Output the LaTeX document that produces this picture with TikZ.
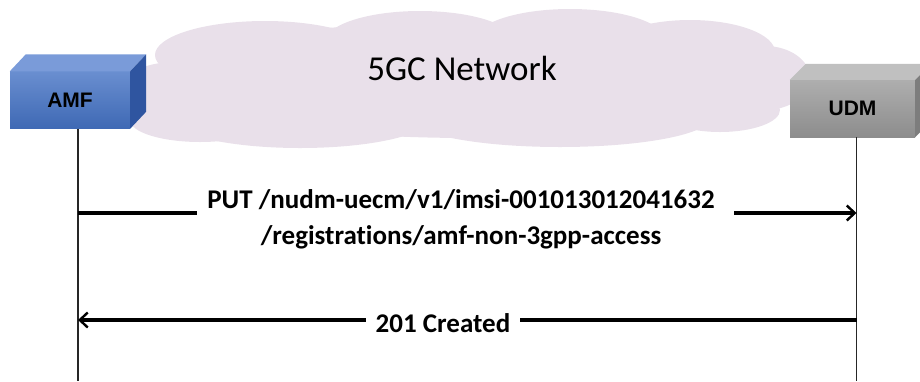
\documentclass[tikz,border=0pt]{standalone}
\usepackage{fontspec}
\setmainfont[Ligatures={NoCommon}]{Carlito}
\newfontfamily\arialfont{Liberation Sans}
\usetikzlibrary{arrows.meta,calc}
\definecolor{cloudc}{RGB}{233,224,234}
\definecolor{bluefront}{RGB}{68,114,196}
\definecolor{bluetop}{RGB}{122,155,217}
\definecolor{blueside}{RGB}{47,85,160}
\definecolor{grayfront}{RGB}{160,160,160}
\definecolor{graytop}{RGB}{192,192,192}
\definecolor{grayside}{RGB}{125,125,125}
\tikzset{
  nf/.style={inner sep=0pt, minimum width=120pt, minimum height=57pt, font=\arialfont\bfseries\fontsize{21}{25}\selectfont},
  lifeline/.style={line width=1.1pt, black!85},
  msg/.style={line width=3.2pt, black},
  msgarrow/.style={msg, -{Straight Barb[length=8pt,width=15pt,line width=2.4pt]}},
  lab/.style={font=\bfseries\fontsize{27}{36}\selectfont, align=center, inner sep=0pt},
  puff/.style={fill=cloudc, draw=none}
}
\begin{document}
\begin{tikzpicture}[x=1pt,y=-1pt]
\useasboundingbox (0,0) rectangle (920,381);
\clip (0,0) rectangle (920,381);
% cloud as union of ellipses
\fill[puff] (470,80) ellipse [x radius=320pt, y radius=58pt];
\fill[puff] (265,55) ellipse [x radius=110pt, y radius=34pt];
\fill[puff] (420,42) ellipse [x radius=95pt, y radius=31pt];
\fill[puff] (570,40) ellipse [x radius=95pt, y radius=31pt];
\fill[puff] (690,52) ellipse [x radius=85pt, y radius=32pt];
\fill[puff] (765,78) ellipse [x radius=45pt, y radius=32pt];
\fill[puff] (175,98) ellipse [x radius=62pt, y radius=36pt];
\fill[puff] (300,118) ellipse [x radius=130pt, y radius=30pt];
\fill[puff] (560,118) ellipse [x radius=150pt, y radius=29pt];
\fill[puff] (200,120) ellipse [x radius=70pt, y radius=22pt];
\fill[puff] (720,110) ellipse [x radius=60pt, y radius=22pt];
\node[font=\fontsize{35}{40}\selectfont, inner sep=0pt] (cloud) at (462,68) {5GC Network};
% AMF box
\node[nf, top color=bluefront!80!white, bottom color=bluefront!92!black] (amf) at (70,100) {AMF};
\fill[bluetop] (amf.north west) -- ++(16,-17) -- ($(amf.north east)+(16,-17)$) -- (amf.north east) -- cycle;
\fill[blueside] (amf.north east) -- ++(16,-17) -- ($(amf.south east)+(16,-17)$) -- (amf.south east) -- cycle;
% UDM box
\node[nf, minimum width=125pt, top color=grayfront!85!white, bottom color=grayfront!88!black] (udm) at (852.5,108.5) {UDM};
\fill[graytop] (udm.north west) -- ++(16,-16) -- ($(udm.north east)+(16,-16)$) -- (udm.north east) -- cycle;
\fill[grayside] (udm.north east) -- ++(16,-16) -- ($(udm.south east)+(16,-16)$) -- (udm.south east) -- cycle;
% lifelines
\coordinate (amfend) at (78,381);
\coordinate (udmend) at (856.5,381);
\draw[lifeline] (amf.south -| amfend) -- (amfend);
\draw[lifeline] (udm.south -| udmend) -- (udmend);
% message 1
\coordinate (m1a) at (78,213);
\coordinate (m1b) at (856.5,213);
\coordinate (m1l) at (197,213);
\coordinate (m1r) at (734,213);
\node[lab] (lab1) at (461,219) {PUT /nudm-uecm/v1/imsi-001013012041632\\/registrations/amf-non-3gpp-access};
\draw[msg] (m1a) -- (m1l);
\draw[msgarrow] (m1r) -- (m1b);
% message 2
\coordinate (m2a) at (856.5,320);
\coordinate (m2b) at (78,320);
\node[lab] (lab2) at (443,323) {201 Created};
\draw[msg] (m2a) -- ($(lab2.east |- m2a)+(10,0)$);
\draw[msgarrow] ($(lab2.west |- m2b)+(-10,0)$) -- (m2b);
\end{tikzpicture}
\end{document}
